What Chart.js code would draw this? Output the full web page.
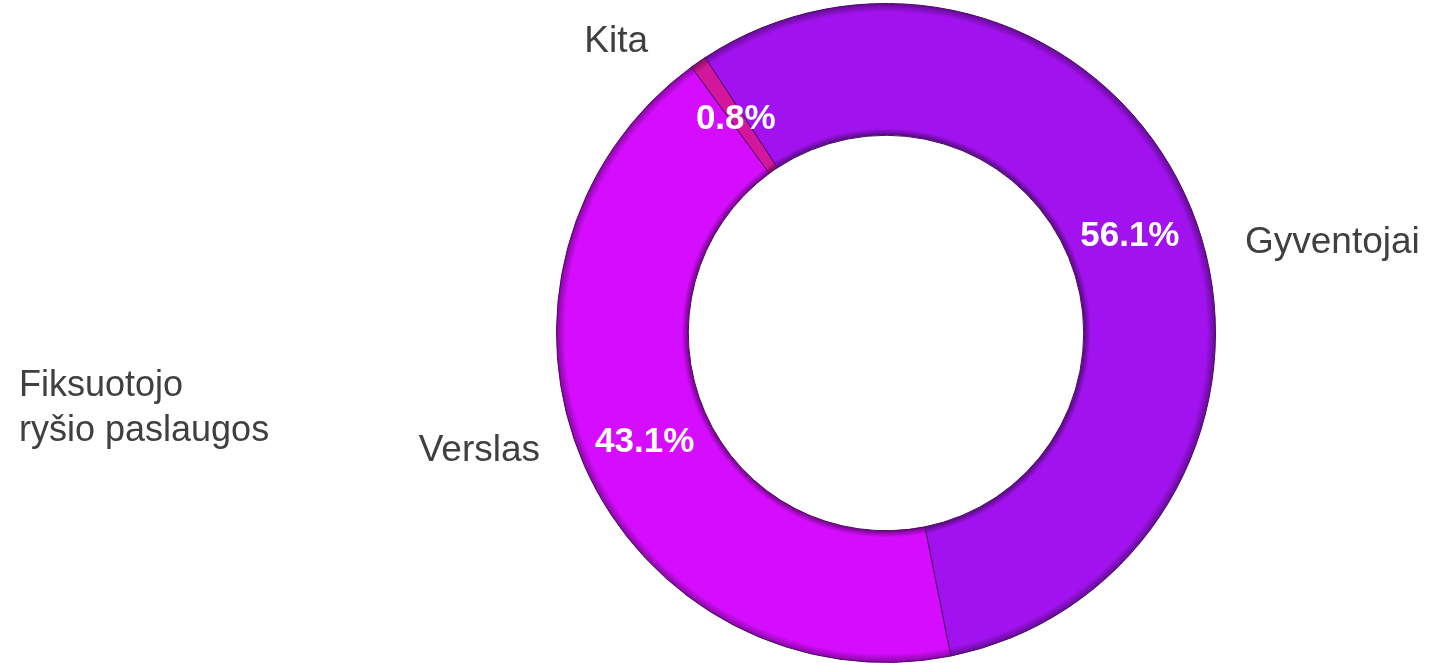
<!DOCTYPE html>
<html>
<head>
<meta charset="utf-8">
<script src="https://cdn.jsdelivr.net/npm/chart.js@4/dist/chart.umd.min.js"></script>
<style>
  html, body { margin: 0; padding: 0; background: #fff; }
  #wrap { width: 1450px; height: 663px; position: relative; }
</style>
</head>
<body>
<div id="wrap"><canvas id="chart"></canvas></div>
<script>
const title = ["Fiksuotojo", "ryšio paslaugos"];
const categories = ["Gyventojai", "Verslas", "Kita"];
const shares = [56.1, 43.1, 0.8];
const percentLabels = ["56.1%", "43.1%", "0.8%"];
const colors = ["#a112ee", "#d60cff", "#d4169c"];

// where the category names sit (picked by hand, like the original)
const namePos = {
    "Gyventojai": [1245, 243, "left"],
    "Verslas": [540, 451, "right"],
    "Kita": [648, 42, "right"]
};

function shade(hex, f) {
    const n = parseInt(hex.slice(1), 16);
    let r = (n >> 16) & 255, g = (n >> 8) & 255, b = n & 255;
    r = Math.round(r * f); g = Math.round(g * f); b = Math.round(b * f);
    return "rgb(" + Math.min(r, 255) + "," + Math.min(g, 255) + "," + Math.min(b, 255) + ")";
}

function ringFill(ctx) {
    const base = colors[ctx.dataIndex];
    const area = ctx.chart.chartArea;
    if (!area) return base;
    const cx = (area.left + area.right) / 2;
    const cy = (area.top + area.bottom) / 2;
    const outer = Math.min(area.right - area.left, area.bottom - area.top) / 2;
    const inner = outer * 0.6;
    const g = ctx.chart.ctx.createRadialGradient(cx, cy, inner, cx, cy, outer);
    g.addColorStop(0, shade(base, 0.55));
    g.addColorStop(0.05, base);
    g.addColorStop(0.93, base);
    g.addColorStop(1, shade(base, 0.6));
    return g;
}

const labelPlugin = {
    id: "labels",
    afterDatasetsDraw(chart) {
        const c = chart.ctx;
        const meta = chart.getDatasetMeta(0);
        c.save();
        c.textBaseline = "middle";
        // percentages inside the ring
        c.fillStyle = "#ffffff";
        c.font = "bold 35px 'Liberation Sans', Arial, sans-serif";
        c.textAlign = "center";
        meta.data.forEach((arc, i) => {
            const p = arc.tooltipPosition();
            c.fillText(percentLabels[i], p.x, p.y + 3);
        });
        // category names
        c.fillStyle = "#404040";
        c.font = "37px 'Liberation Sans', Arial, sans-serif";
        categories.forEach(name => {
            const pos = namePos[name];
            c.textAlign = pos[2];
            c.fillText(name, pos[0], pos[1]);
        });
        // title on the left
        c.textAlign = "left";
        c.font = "36px 'Liberation Sans', Arial, sans-serif";
        c.fillText(title[0], 19, 386);
        c.fillText(title[1], 19, 431);
        c.restore();
    }
};

const chartArea = document.getElementById("chart");
var chart = new Chart(chartArea, {
    type: 'doughnut',
    data: {
        labels: categories,
        datasets: [{
            data: shares,
            backgroundColor: ringFill,
            borderColor: "#4a0a66",
            borderWidth: 1
        }]
    },
    options: {
        responsive: true,
        maintainAspectRatio: false,
        animation: false,
        cutout: '60%',
        rotation: -33.3,
        layout: {
            padding: { left: 322, right: 0, top: 3, bottom: 0 }
        },
        plugins: {
            legend: { display: false },
            tooltip: { enabled: false }
        }
    },
    plugins: [labelPlugin]
});
</script>
</body>
</html>
